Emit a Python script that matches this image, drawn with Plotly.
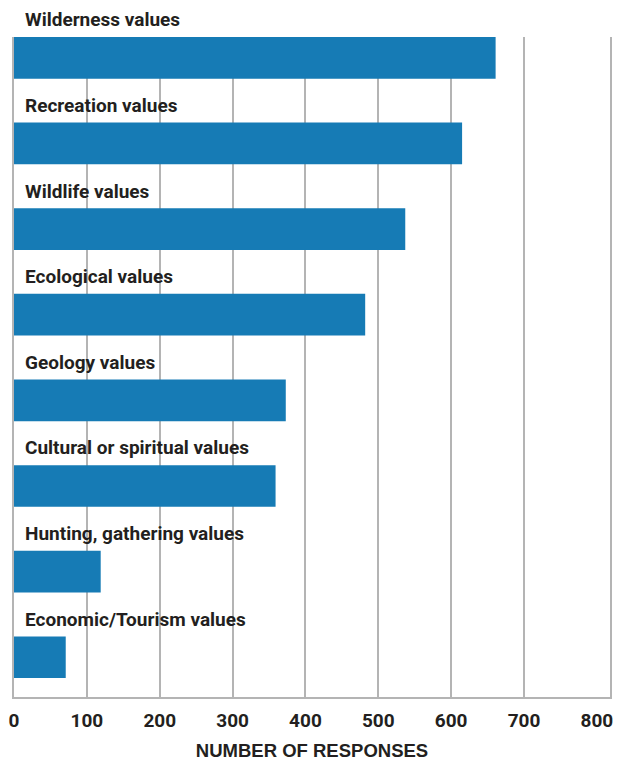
import plotly.graph_objects as go

categories = [
    "Wilderness values",
    "Recreation values",
    "Wildlife values",
    "Ecological values",
    "Geology values",
    "Cultural or spiritual values",
    "Hunting, gathering values",
    "Economic/Tourism values",
]
responses = [661, 615, 537, 482, 373, 359, 119, 71]
tick_values = [0, 100, 200, 300, 400, 500, 600, 700, 800]
tick_labels = ["0", "100", "200", "300", "400", "500", "600", "700", "800"]
grid_values = [100, 200, 300, 400, 500, 600, 700]

BLUE = "#167bb5"
GRID = "#b4b4b4"
TEXT = "#231f20"
LABEL_FONT = "Liberation Sans Narrow, Roboto, Arial Narrow, sans-serif"

fig = go.Figure()
fig.add_trace(go.Bar(
    x=responses,
    y=categories,
    orientation="h",
    width=0.487,
    marker=dict(color=BLUE, line=dict(width=0)),
    hoverinfo="x+y",
))

for cat in categories:
    fig.add_annotation(
        x=13, y=cat, xref="x", yref="y",
        text="<b>%s</b>" % cat,
        showarrow=False, xanchor="left", yanchor="middle",
        yshift=38,
        font=dict(family=LABEL_FONT, size=19, color=TEXT),
    )

fig.update_layout(
    width=620, height=755,
    margin=dict(l=6, r=18, t=29, b=66),
    paper_bgcolor="white", plot_bgcolor="white",
    showlegend=False,
    xaxis=dict(
        automargin=False,
        range=[0, 818],
        tickmode="array", tickvals=tick_values, ticktext=tick_labels,
        ticklabeloverflow="allow",
        showgrid=False, zeroline=False,
        showline=True, linecolor=GRID, linewidth=2,
        ticks="", ticklabelstandoff=5,
        tickfont=dict(family=LABEL_FONT, size=19, color=TEXT, weight="bold"),
        minor=dict(tickmode="array", tickvals=grid_values, showgrid=True,
                   gridcolor=GRID, gridwidth=1.5, ticks=""),
        title=dict(text="<b>NUMBER OF RESPONSES</b>", standoff=13,
                   font=dict(family="Liberation Sans, Arial, sans-serif", size=18.5, color=TEXT)),
    ),
    yaxis=dict(
        automargin=False,
        type="category",
        categoryorder="array", categoryarray=categories,
        range=[7.464, -0.243],
        showticklabels=False, ticks="",
        showgrid=False, zeroline=False,
        showline=True, mirror=True, linecolor=GRID, linewidth=1.5,
    ),
)

fig.write_html("out.html")
